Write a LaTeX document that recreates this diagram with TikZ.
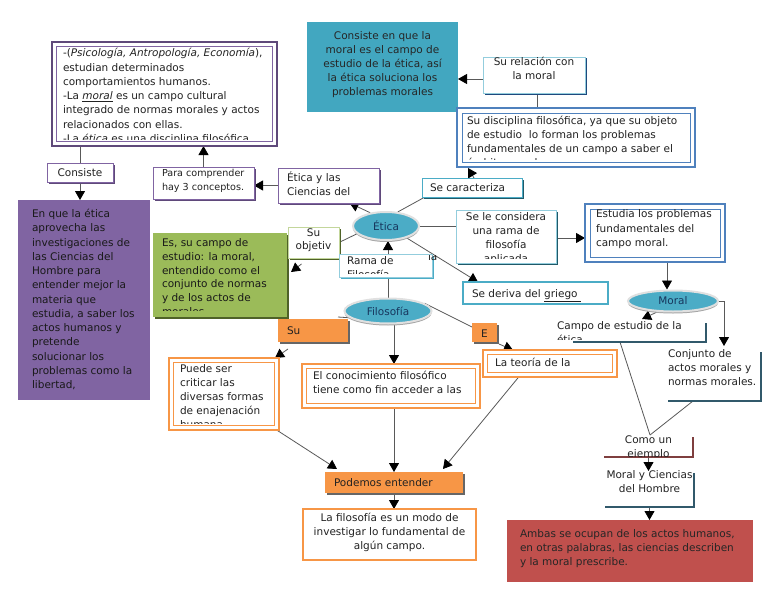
\documentclass[tikz,border=0pt]{standalone}
\usepackage{fontspec}
\setmainfont{DejaVu Sans}
\usetikzlibrary{arrows.meta,shapes.geometric,calc,shadows,fit}
\definecolor{cpurple}{HTML}{8064A2}
\definecolor{cpurpled}{HTML}{5F497A}
\definecolor{cteal}{HTML}{4BACC6}
\definecolor{ctealbox}{HTML}{42A7C0}
\definecolor{ctealight}{HTML}{93CDDD}
\definecolor{ctealdark}{HTML}{215968}
\definecolor{cgreen}{HTML}{9BBB59}
\definecolor{cgreenl}{HTML}{C3D69B}
\definecolor{cgreend}{HTML}{4F6228}
\definecolor{corange}{HTML}{F79646}
\definecolor{cred}{HTML}{C0504D}
\definecolor{cblue}{HTML}{4F81BD}
\definecolor{cnavy}{HTML}{17365D}
\definecolor{cnavyb}{HTML}{1F497D}
\definecolor{cdteal}{HTML}{31596B}
\definecolor{cbrown}{HTML}{7F3F3F}
\definecolor{ctxt}{HTML}{222222}
\definecolor{cline}{HTML}{595959}
\newcommand\fsz{\fontsize{10.5}{14}\selectfont}
\newcommand\tst{\rule{0pt}{10pt}}
\pgfdeclarelayer{bg}
\pgfsetlayers{bg,main}
\begin{document}
\begin{tikzpicture}[x=1pt,y=-1pt,
  bx/.style={inner sep=0, outer sep=0},
  txt/.style={inner sep=0, outer sep=0, anchor=north west, align=left, text=ctxt, font=\fsz, execute at begin node=\tst},
  ctr/.style={txt, anchor=north, align=center},
  arr/.style={draw=cline, line width=0.8pt, -{Triangle[width=10pt,length=9pt,color=black]}},
  con/.style={draw=cline, line width=0.8pt},
  shad/.style={general shadow={fill=#1, shadow xshift=1.5pt, shadow yshift=-1.5pt}},
  ell/.style={ellipse, draw=black!12, line width=2pt, fill=cteal, text=cnavy, font=\fsz, inner sep=0,
     general shadow={fill=black!35, shadow xshift=0pt, shadow yshift=-2pt}},
]
\useasboundingbox (0,0) rectangle (768,594);
\begin{pgfonlayer}{bg}
\fill[white] (0,0) rectangle (768,594);
\end{pgfonlayer}

% ---------- top-left box
\node[bx, fit={(52,42)(277,146)}, draw=cpurpled, line width=2pt, fill=white] (tl) {};
\draw[cpurple, line width=0.8pt] ($(tl.north west)+(4.5,4.5)$) rectangle ($(tl.south east)+(-4.5,-4.5)$);
\begin{scope}
\clip ($(tl.north west)+(5,5)$) rectangle ($(tl.south east)+(-5,-6.5)$);
\node[txt, font={\fontsize{10.5}{14.25}\selectfont}] (tlt) at (63,48.5) {-(\textit{Psicología, Antropología, Economía}),\\estudian determinados\\comportamientos humanos.\\-La \underline{\textit{moral}} es un campo cultural\\integrado de normas morales y actos\\relacionados con ellas.\\-La \textit{ética} es una disciplina filosófica};
\end{scope}

% ---------- Consiste
\node[bx, fit={(47,163)(113,182)}, draw=cpurple, line width=0.8pt, fill=white, shad=cpurpled] (cons) {};
\node[ctr] (const) at (80,166) {Consiste};

% ---------- purple box
\node[bx, fit={(18,200)(150,400)}, fill=cpurple] (pur) {};
\node[txt, text=black!90, font={\fontsize{10.5}{14.25}\selectfont}] (purt) at (32,209.2) {En que la ética\\aprovecha las\\investigaciones de\\las Ciencias del\\Hombre para\\entender mejor la\\materia que\\estudia, a saber los\\actos humanos y\\pretende\\solucionar los\\problemas como la\\libertad,};

% ---------- Para comprender
\node[bx, fit={(153,167)(254,199)}, draw=cpurple, line width=0.8pt, fill=white, shad=cpurpled] (para) {};
\node[txt, font={\fontsize{9.6}{14}\selectfont}] (parat) at (162,169.5) {Para comprender\\hay 3 conceptos.};

% ---------- Etica y las Ciencias
\node[bx, fit={(278,168)(379,203)}, draw=cpurple, line width=0.8pt, fill=white, shad=cpurpled] (ecd) {};
\node[txt] (ecdt) at (287,171.5) {Ética y las\\Ciencias del};

% ---------- teal box
\node[bx, fit={(307,22)(458,112)}, fill=ctealbox] (teal) {};
\node[ctr, text=black!85, font={\fontsize{10.5}{13.9}\selectfont}] (tealt) at (382.5,32) {Consiste en que la\\moral es el campo de\\estudio de la ética, así\\la ética soluciona los\\problemas morales};

% ---------- Su relacion con la moral
\node[bx, fit={(483,57)(585,93)}, draw=ctealight, line width=0.8pt, fill=white, shad=cnavyb] (rel) {};
\node[ctr, font={\fontsize{10.5}{14.5}\selectfont}] (relt) at (534,57) {Su relación con\\la moral};

% ---------- Su disciplina
\node[bx, fit={(457,108)(695,167)}, draw=cblue, line width=2.2pt, fill=white] (disc) {};
\draw[cblue, line width=0.8pt] ($(disc.north west)+(5,5)$) rectangle ($(disc.south east)+(-5,-5)$);
\begin{scope}
\clip ($(disc.north west)+(5.5,5.5)$) rectangle ($(disc.south east)+(-5.5,-7.5)$);
\node[txt, font={\fontsize{10.5}{13.8}\selectfont}] (disct) at (467,116.5) {Su disciplina filosófica, ya que su objeto\\de estudio\ \ lo forman los problemas\\fundamentales de un campo a saber el\\ámbito moral.};
\end{scope}

% ---------- Se caracteriza
\node[bx, fit={(422,178)(522,197)}, draw=cteal, line width=0.8pt, fill=white, shad=ctealdark] (car) {};
\node[txt] (cart) at (430,181) {Se caracteriza};

% ---------- Se le considera
\node[bx, fit={(456,210)(556,263)}, draw=ctealight, line width=0.8pt, fill=white, shad=ctealdark] (consid) {};
\begin{scope}
\clip (457,211) rectangle (555,258);
\node[ctr] (consit) at (506,212.5) {Se le considera\\una rama de\\filosofía\\aplicada};
\end{scope}

% ---------- Estudia
\node[bx, fit={(585,204)(725,262)}, draw=cblue, line width=2.2pt, fill=white] (est) {};
\draw[cblue, line width=0.8pt] ($(est.north west)+(5,5)$) rectangle ($(est.south east)+(-5,-5)$);
\node[txt, font={\fontsize{10.5}{14.5}\selectfont}] (estt) at (596,210) {Estudia los problemas\\fundamentales del\\campo moral.};

% ---------- Se deriva del griego
\node[bx, fit={(463,282)(608,304)}, draw=cteal, line width=2pt, fill=white] (der) {};
\node[txt] (dert) at (472,287.5) {Se deriva del \underline{griego\ }};

% ---------- ellipses
\node[ell, minimum width=66pt, minimum height=28pt] (etica) at (386,226) {Ética};
\node[ell, minimum width=87pt, minimum height=25pt] (filo) at (388,311) {Filosofía};
\node[ell, minimum width=90pt, minimum height=21pt] (moral) at (673,301) {Moral};

% ---------- Campo de estudio
\node[bx, fit={(573,323)(706,342)}] (campo) {};
\draw[cdteal, line width=1.5pt] (campo.north east) -- (campo.south east) -- (campo.south west);
\begin{scope}
\clip (550,316) rectangle (705,339.5);
\node[txt, font={\fontsize{10.5}{14.25}\selectfont}] (campot) at (557,321.5) {Campo de estudio de la\\ética};
\end{scope}

% ---------- Conjunto
\node[bx, fit={(668,352)(761,401)}] (conj) {};
\draw[cdteal, line width=1.5pt] (conj.north east) -- (conj.south east) -- (conj.south west);
\node[txt] (conjt) at (668,349.5) {Conjunto de\\actos morales y\\normas morales.};

% ---------- Como un ejemplo
\node[bx, fit={(604,437)(693,457)}] (ej) {};
\draw[cbrown, line width=1.2pt] (ej.north east) -- (ej.south east) -- (ej.south west);
\begin{scope}
\clip (598,430) rectangle (692.4,456.4);
\node[ctr, font={\fontsize{10.5}{14.25}\selectfont}] (ejt) at (648.5,435.5) {Como un\\ejemplo};
\end{scope}

% ---------- Moral y Ciencias del Hombre
\node[bx, fit={(605,473)(694,507)}] (mch) {};
\draw[cdteal, line width=1.2pt] (mch.north east) -- (mch.south east) -- (mch.south west);
\node[ctr, font={\fontsize{10.5}{13.5}\selectfont}] (mcht) at (649.5,471) {Moral y Ciencias\\del Hombre};

% ---------- red box
\node[bx, fit={(507,520)(753,582)}, fill=cred] (red) {};
\node[txt, text=black!85] (redt) at (520,529.5) {Ambas se ocupan de los actos humanos,\\en otras palabras, las ciencias describen\\y la moral prescribe.};

% ---------- green box
\node[bx, fit={(153,233)(287,317)}, fill=cgreen, shad=cgreend] (green) {};
\begin{scope}
\clip (153,233) rectangle (287,310);
\node[txt, text=black!90, font={\fontsize{10.5}{13.8}\selectfont}] (greent) at (162,238.5) {Es, su campo de\\estudio: la moral,\\entendido como el\\conjunto de normas\\y de los actos de\\morales};
\end{scope}

% ---------- Su objetiv
\node[bx, fit={(288,227)(339,258)}, draw=cgreenl, line width=0.8pt, fill=white, shad=cgreend] (obj) {};
\node[ctr, font={\fontsize{10.5}{13}\selectfont}] (objt) at (313.5,228.5) {Su\\objetiv};

% ---------- Rama de
\node[bx, fit={(339,254)(432,277)}, draw=ctealight, line width=0.8pt, fill=white, shad=cteal] (rama) {};
\begin{scope}
\clip (340,255) rectangle (431,273);
\node[txt] (ramat) at (347,256.5) {Rama de\\Filosofía};
\end{scope}
\begin{scope}
\clip (420,255) rectangle (445,266);
\node[txt] (lat) at (428,250) {la};
\end{scope}

% ---------- orange small boxes
\node[bx, fit={(278,319)(348,342)}, fill=corange, shad=black!60] (su) {};
\node[txt] (sut) at (287,324) {Su};
\node[bx, fit={(472,323)(497,342)}, fill=corange, shad=black!60] (e) {};
\node[ctr] (et) at (484.5,327) {E};
\node[bx, fit={(325,472)(463,493)}, fill=corange, shad=black!60] (pod) {};
\node[txt] (podt) at (334,476) {Podemos entender};

% ---------- orange double boxes
\node[bx, fit={(483,350)(617,377)}, draw=corange, line width=2.4pt, fill=white] (teo) {};
\draw[corange, line width=0.9pt] ($(teo.north west)+(4.5,4.5)$) rectangle ($(teo.south east)+(-4.5,-4.5)$);
\node[txt] (teot) at (495,356) {La teoría de la};

\node[bx, fit={(169,358)(279,430)}, draw=corange, line width=2.4pt, fill=white] (puede) {};
\draw[corange, line width=0.9pt] ($(puede.north west)+(4.5,4.5)$) rectangle ($(puede.south east)+(-4.5,-4.5)$);
\begin{scope}
\clip (174,363) rectangle (274,423);
\node[txt] (puedet) at (180,364.5) {Puede ser\\criticar las\\diversas formas\\de enajenación\\humana};
\end{scope}

\node[bx, fit={(302,364)(480,408)}, draw=corange, line width=2.4pt, fill=white] (conoc) {};
\draw[corange, line width=0.9pt] ($(conoc.north west)+(4.5,4.5)$) rectangle ($(conoc.south east)+(-4.5,-4.5)$);
\node[txt] (conoct) at (313,371.5) {El conocimiento filosófico\\tiene como fin acceder a las};

\node[bx, fit={(303,509)(476,560)}, draw=corange, line width=2pt, fill=white] (fin) {};
\node[ctr] (fint) at (389.5,513.5) {La filosofía es un modo de\\investigar lo fundamental de\\algún campo.};

% ---------- connectors
\begin{pgfonlayer}{bg}
\draw[con] (cons.north |- tl.south) -- (cons.north);
\draw[arr] (cons.south) -- (cons.south |- pur.north);
\draw[arr] (para.north) -- (para.north |- tl.south);
\draw[arr] (ecd.west) -- (ecd.west -| para.east);
\draw[arr] (etica.140) -- ($(ecd.south)+(21,0)$);
\coordinate (c6) at ($(rel.west)+(0,4)$);
\draw[arr] (c6) -- (c6 -| teal.east);
\coordinate (c7) at ($(rel.south)+(3,0)$);
\draw[con] (c7) -- (c7 |- disc.north);
\draw[arr] ($(car.north)+(2,0)$) -- ($(disc.south)+(-108,1)$);
\draw[con] (etica.50) -- ($(car.south west)+(3,0)$);
\draw[con] (etica.east) -- (etica.east -| consid.west);
\coordinate (c11) at ($(consid.east)+(0,1.5)$);
\draw[arr] (c11) -- (c11 -| est.west);
\coordinate (c12) at ($(est.south)+(12,0)$);
\draw[arr] (c12) -- (c12 |- moral.north);
\draw[arr] (etica.-30) -- ($(der.north west)+(15,0)$);
\draw[arr] (moral.215) -- ($(campo.north west)+(69,-4)$);
\coordinate (c15) at ($(conj.north)+(9.5,-6)$);
\draw[arr] (moral.east) -| (c15);
\coordinate (c16) at ($(ej.north)+(1.5,-2)$);
\draw[con] ($(campo.south west)+(47,0)$) -- (c16);
\draw[con] ($(conj.south west)+(25,0)$) -- (c16);
\coordinate (c18) at ($(mch.north)+(0,-2)$);
\draw[arr] (ej.south) -- (ej.south |- c18);
\draw[arr] (mch.south) -- (mch.south |- red.north);
\draw[con] (etica.195) -- (obj.east);
\draw[arr] ($(obj.south)+(-12,6)$) -- ($(green.east)+(4,-3)$);
\draw[arr] (filo.north) -- (filo.north |- etica.south);
\draw[con] (filo.190) -- ($(su.north east)+(-10,-2)$);
\draw[arr] ($(su.south west)+(10,7)$) -- ($(puede.north east)+(-4,0)$);
\draw[con] (filo.12) -- ($(e.north west)+(0,4)$);
\draw[arr] ($(e.south east)+(2,2)$) -- ($(teo.north west)+(30,0)$);
\coordinate (c27) at ($(filo.south)+(6,0)$);
\draw[arr] (c27) -- (c27 |- conoc.north);
\draw[arr] ($(puede.south east)+(-7,-3)$) -- ($(pod.north west)+(12,-3)$);
\coordinate (c29) at ($(conoc.south)+(3,0)$);
\draw[arr] (c29) -- (c29 |- pod.north);
\draw[arr] ($(teo.south west)+(39,-4)$) -- ($(pod.north east)+(-20,-3)$);
\draw[arr] (pod.south) -- (pod.south |- fin.north);
\end{pgfonlayer}
\end{tikzpicture}
\end{document}
